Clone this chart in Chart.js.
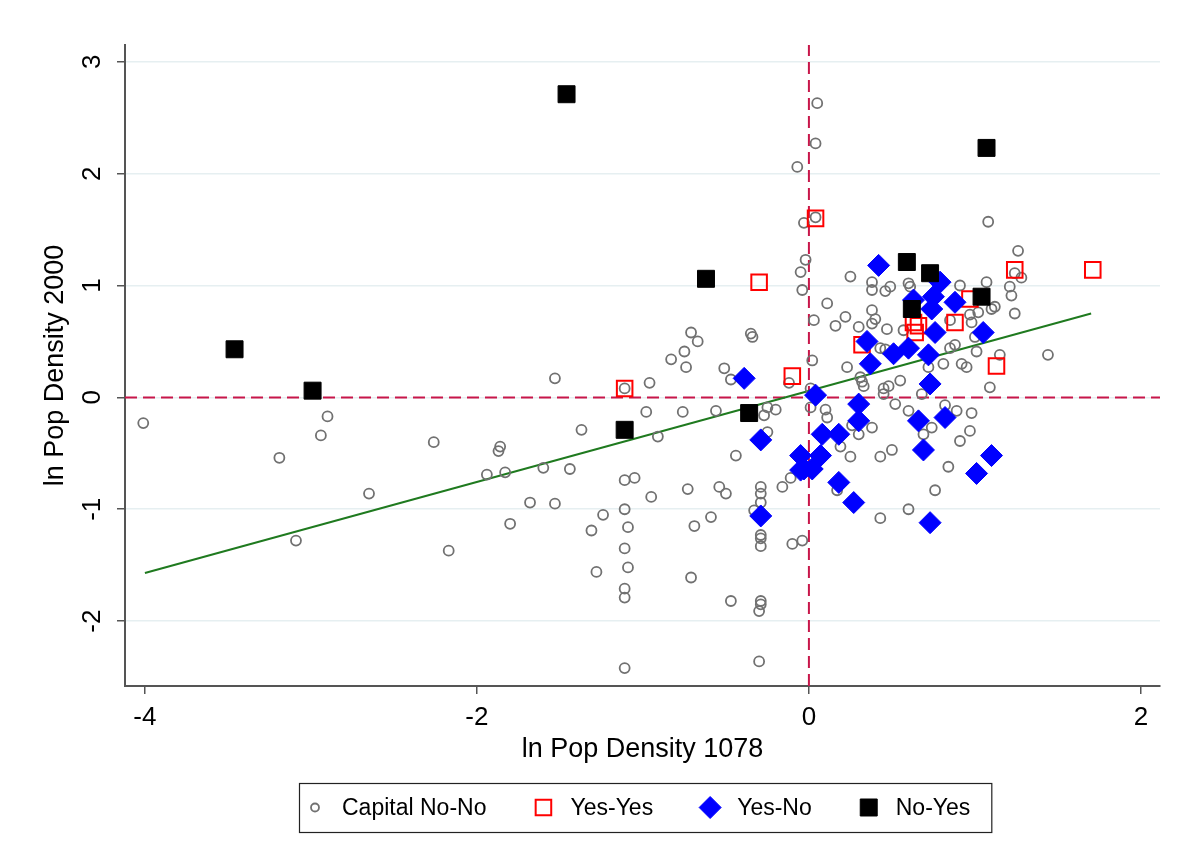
<!DOCTYPE html>
<html>
<head>
<meta charset="utf-8">
<script src="https://cdn.jsdelivr.net/npm/chart.js@4.4.1/dist/chart.umd.min.js"></script>
<style>
  html, body { margin: 0; padding: 0; background: #fff; }
  #wrap { width: 1179px; height: 865px; }
</style>
</head>
<body>
<div id="wrap"><canvas id="density"></canvas></div>
<script>
// ln pop density: [1078, 2000]
const capitalNoNo = [
  [-4.01,-0.23],[-2.90,-0.17],[-2.94,-0.34],[-3.19,-0.54],[-2.26,-0.40],[-2.65,-0.86],[-3.09,-1.28],[-2.17,-1.37],
  [-1.53,0.17],[-1.11,0.08],[-0.96,0.13],[-0.71,0.58],[-0.67,0.50],[-0.75,0.41],[-0.83,0.34],[-0.74,0.27],
  [-0.98,-0.13],[-0.76,-0.13],[-0.56,-0.12],[-0.91,-0.35],[-1.37,-0.29],[-1.86,-0.44],[-1.87,-0.48],
  [-1.94,-0.69],[-1.83,-0.67],[-1.60,-0.63],[-1.44,-0.64],[-1.11,-0.74],[-1.05,-0.72],[-0.95,-0.89],
  [-0.73,-0.82],[-0.54,-0.80],[-1.68,-0.94],[-1.53,-0.95],[-1.24,-1.05],[-1.31,-1.19],[-1.11,-1.00],
  [-1.09,-1.16],[-0.69,-1.15],[-0.59,-1.07],[-1.80,-1.13],[-1.11,-1.35],[-1.09,-1.52],[-1.28,-1.56],
  [-0.71,-1.61],[-1.11,-1.71],[-1.11,-1.79],
  [-0.50,-0.86],[-0.29,-0.80],[-0.29,-0.86],[-0.29,-0.94],[-0.16,-0.80],[-0.11,-0.72],[-0.33,-1.01],
  [-0.29,-1.23],[-0.29,-1.26],[-0.29,-1.33],[-0.10,-1.31],[-0.04,-1.28],[-0.47,-1.82],[-0.29,-1.82],
  [-0.29,-1.85],[-0.30,-1.91],[-1.11,-2.42],[-0.30,-2.36],
  [0.05,2.63],[0.04,2.27],[-0.07,2.06],[0.04,1.61],[-0.03,1.56],[-0.02,1.23],[-0.05,1.12],[-0.04,0.96],
  [0.25,1.08],[0.38,1.03],[0.38,0.96],[0.46,0.95],[0.49,0.99],[0.11,0.84],[0.03,0.69],[0.16,0.64],
  [0.22,0.72],[0.30,0.63],[0.38,0.78],[0.40,0.70],[0.38,0.66],[0.47,0.61],[-0.35,0.57],[-0.34,0.54],
  [0.43,0.44],[0.46,0.43],[0.02,0.33],[0.23,0.27],[0.32,0.14],[0.33,0.10],[0.55,0.15],[0.45,0.08],
  [0.48,0.10],[0.45,0.03],[0.52,-0.06],[-0.51,0.26],[-0.47,0.16],[-0.12,0.13],[0.01,0.08],[0.01,-0.09],
  [0.10,-0.11],[0.11,-0.18],[-0.27,-0.16],[-0.25,-0.09],[-0.20,-0.11],[0.38,-0.27],[0.26,-0.25],
  [0.30,-0.33],[-0.25,-0.31],[0.19,-0.44],[0.25,-0.53],[-0.44,-0.52],[0.43,-0.53],[0.50,-0.47],
  [0.17,-0.83],[0.43,-1.08],
  [1.08,1.57],[1.26,1.31],[1.24,1.11],[1.28,1.07],[0.91,1.00],[1.07,1.03],[1.21,0.99],[1.22,0.91],
  [1.24,0.75],[1.12,0.81],[1.10,0.79],[1.02,0.76],[0.97,0.74],[0.98,0.67],[0.60,1.02],[0.61,0.99],
  [0.57,0.60],[0.85,0.44],[0.88,0.47],[0.81,0.30],[0.72,0.27],[0.92,0.30],[0.95,0.27],[1.01,0.41],
  [1.15,0.38],[1.44,0.38],[1.09,0.09],
  [0.68,0.03],[0.60,-0.12],[0.74,-0.27],[0.69,-0.33],[0.82,-0.07],[0.89,-0.12],[0.98,-0.14],
  [0.97,-0.30],[0.91,-0.39],[0.84,-0.62],[0.76,-0.83],[0.60,-1.00],
  [0.85,0.69],[1.00,0.54],[0.31,0.18]
];
const yesYes = [
  [-1.11,0.08],[-0.30,1.03],[0.04,1.60],[-0.10,0.19],[0.32,0.47],[0.97,0.88],[0.88,0.67],
  [0.63,0.67],[0.64,0.58],[0.66,0.64],[1.24,1.14],[1.71,1.14],[1.13,0.28]
];
const yesNo = [
  [0.42,1.18],[0.79,1.03],[0.75,0.90],[0.74,0.79],[0.88,0.85],[0.63,0.87],[0.76,0.58],[1.05,0.58],
  [0.35,0.50],[0.51,0.39],[0.60,0.44],[0.72,0.38],[0.37,0.30],[0.73,0.12],[-0.39,0.17],[0.04,0.02],
  [0.30,-0.06],[0.30,-0.21],[-0.29,-0.38],[0.08,-0.33],[0.18,-0.33],[-0.05,-0.52],[0.07,-0.52],
  [-0.03,-0.64],[0.02,-0.64],[-0.05,-0.65],[0.18,-0.76],[0.27,-0.94],[-0.29,-1.06],[0.66,-0.21],
  [0.82,-0.18],[0.69,-0.47],[1.01,-0.68],[1.10,-0.52],[0.73,-1.12]
];
const noYes = [
  [-3.46,0.43],[-2.99,0.06],[-1.46,2.71],[-0.62,1.06],[-1.11,-0.29],[-0.36,-0.14],
  [0.59,1.21],[0.73,1.11],[0.62,0.79],[1.04,0.90],[1.07,2.23]
];
// fitted line end points
const fitX = [-4.0, 1.7];
const fitY = [-1.57, 0.75];

const xRange = [-4.12, 2.115];
const yRange = [-2.58, 3.15];
const xTicks = [-4, -2, 0, 2];
const yTicks = [-2, -1, 0, 1, 2, 3];

const FONT = '"Liberation Sans", Arial, sans-serif';
const pts = arr => arr.map(p => ({x: p[0], y: p[1]}));

function drawMarker(ctx, ds, x, y) {
  ctx.beginPath();
  ctx.lineWidth = ds.borderWidth;
  ctx.strokeStyle = ds.borderColor;
  ctx.fillStyle = ds.backgroundColor;
  if (ds.pointStyle === 'circle') {
    ctx.arc(x, y, 4, 0, Math.PI * 2);
  } else if (ds.pointStyle === 'rectRot') {
    const r = 11;
    ctx.moveTo(x - r, y); ctx.lineTo(x, y - r); ctx.lineTo(x + r, y); ctx.lineTo(x, y + r);
    ctx.closePath();
  } else {
    const h = ds.pointRadius * Math.SQRT1_2;
    ctx.rect(x - h, y - h, 2 * h, 2 * h);
  }
  ctx.fill();
  ctx.stroke();
}

// Stata style legend in a framed box below the plot
const boxLegend = {
  id: 'boxLegend',
  afterDraw(chart) {
    const ctx = chart.ctx;
    const area = chart.chartArea;
    const items = chart.data.datasets.slice(0, 4);
    ctx.save();
    ctx.font = '23px ' + FONT;
    const widths = items.map(d => ctx.measureText(d.label).width);
    const total = 16 + 4 * 27 + widths.reduce((a, b) => a + b, 0) + 3 * 57 + 21;
    const left = Math.round((area.left + area.right) / 2 + 3 - total / 2);
    const top = Math.round(area.bottom + 97);
    ctx.strokeStyle = '#222';
    ctx.lineWidth = 1.2;
    ctx.strokeRect(left + 0.5, top + 0.5, total, 49);
    const cy = top + 24.5;
    let x = left + 16;
    items.forEach((d, i) => {
      drawMarker(ctx, d, x, cy);
      ctx.fillStyle = '#000';
      ctx.textAlign = 'left';
      ctx.textBaseline = 'middle';
      ctx.fillText(d.label, x + 27, cy + 1);
      x += 27 + widths[i] + 57;
    });
    ctx.restore();
  }
};

new Chart(document.getElementById('density'), {
  type: 'scatter',
  data: {
    datasets: [
      {
        label: 'Capital No-No',
        data: pts(capitalNoNo),
        pointStyle: 'circle',
        pointRadius: 5,
        borderWidth: 1.8,
        borderColor: '#717171',
        backgroundColor: 'rgba(0,0,0,0)',
        order: 4
      },
      {
        label: 'Yes-Yes',
        data: pts(yesYes),
        pointStyle: 'rect',
        pointRadius: 11,
        borderWidth: 2,
        borderColor: '#ff0000',
        backgroundColor: 'rgba(0,0,0,0)',
        order: 3
      },
      {
        label: 'Yes-No',
        data: pts(yesNo),
        pointStyle: 'rectRot',
        pointRadius: 11,
        borderWidth: 1,
        borderColor: '#0000ff',
        backgroundColor: '#0000ff',
        order: 2
      },
      {
        label: 'No-Yes',
        data: pts(noYes),
        pointStyle: 'rect',
        pointRadius: 12,
        borderWidth: 1,
        borderColor: '#000000',
        backgroundColor: '#000000',
        order: 1
      },
      {
        label: 'fit',
        data: fitX.map((v, i) => ({x: v, y: fitY[i]})),
        showLine: true,
        pointRadius: 0,
        borderColor: '#1f7a1f',
        borderWidth: 2,
        order: 5
      },
      {
        label: 'x0',
        data: [{x: 0, y: yRange[0]}, {x: 0, y: yRange[1]}],
        showLine: true,
        pointRadius: 0,
        borderColor: '#c8164a',
        borderWidth: 2,
        borderDash: [12, 6],
        order: 6
      },
      {
        label: 'y0',
        data: [{x: xRange[0], y: 0}, {x: xRange[1], y: 0}],
        showLine: true,
        pointRadius: 0,
        borderColor: '#c8164a',
        borderWidth: 2,
        borderDash: [12, 6],
        order: 6
      }
    ]
  },
  options: {
    responsive: true,
    maintainAspectRatio: false,
    animation: false,
    layout: { padding: { top: 45, right: 19, bottom: 99, left: 0 } },
    plugins: {
      legend: { display: false },
      tooltip: { enabled: false }
    },
    scales: {
      x: {
        min: xRange[0],
        max: xRange[1],
        afterBuildTicks: s => { s.ticks = xTicks.map(v => ({value: v})); },
        afterFit: s => { s.height = 80; },
        grid: { drawOnChartArea: false, tickLength: 8, tickColor: '#555', lineWidth: 1.5 },
        border: { color: '#555', width: 2 },
        ticks: { color: '#000', padding: 8, font: { family: FONT, size: 26 } },
        title: {
          display: true,
          text: 'ln Pop Density 1078',
          color: '#000',
          padding: { top: 0, bottom: 0 },
          font: { family: FONT, size: 27 }
        }
      },
      y: {
        min: yRange[0],
        max: yRange[1],
        afterBuildTicks: s => { s.ticks = yTicks.map(v => ({value: v})); },
        afterFit: s => { s.width = 125; },
        grid: { color: '#e6eff1', lineWidth: 1.5, tickLength: 8, tickColor: '#555' },
        border: { color: '#555', width: 2 },
        ticks: {
          color: '#000',
          padding: 13,
          minRotation: 90,
          maxRotation: 90,
          crossAlign: 'center',
          font: { family: FONT, size: 26 }
        },
        title: {
          display: true,
          text: 'ln Pop Density 2000',
          color: '#000',
          padding: { top: 39, bottom: 0 },
          font: { family: FONT, size: 27 }
        }
      }
    }
  },
  plugins: [boxLegend]
});
</script>
</body>
</html>
